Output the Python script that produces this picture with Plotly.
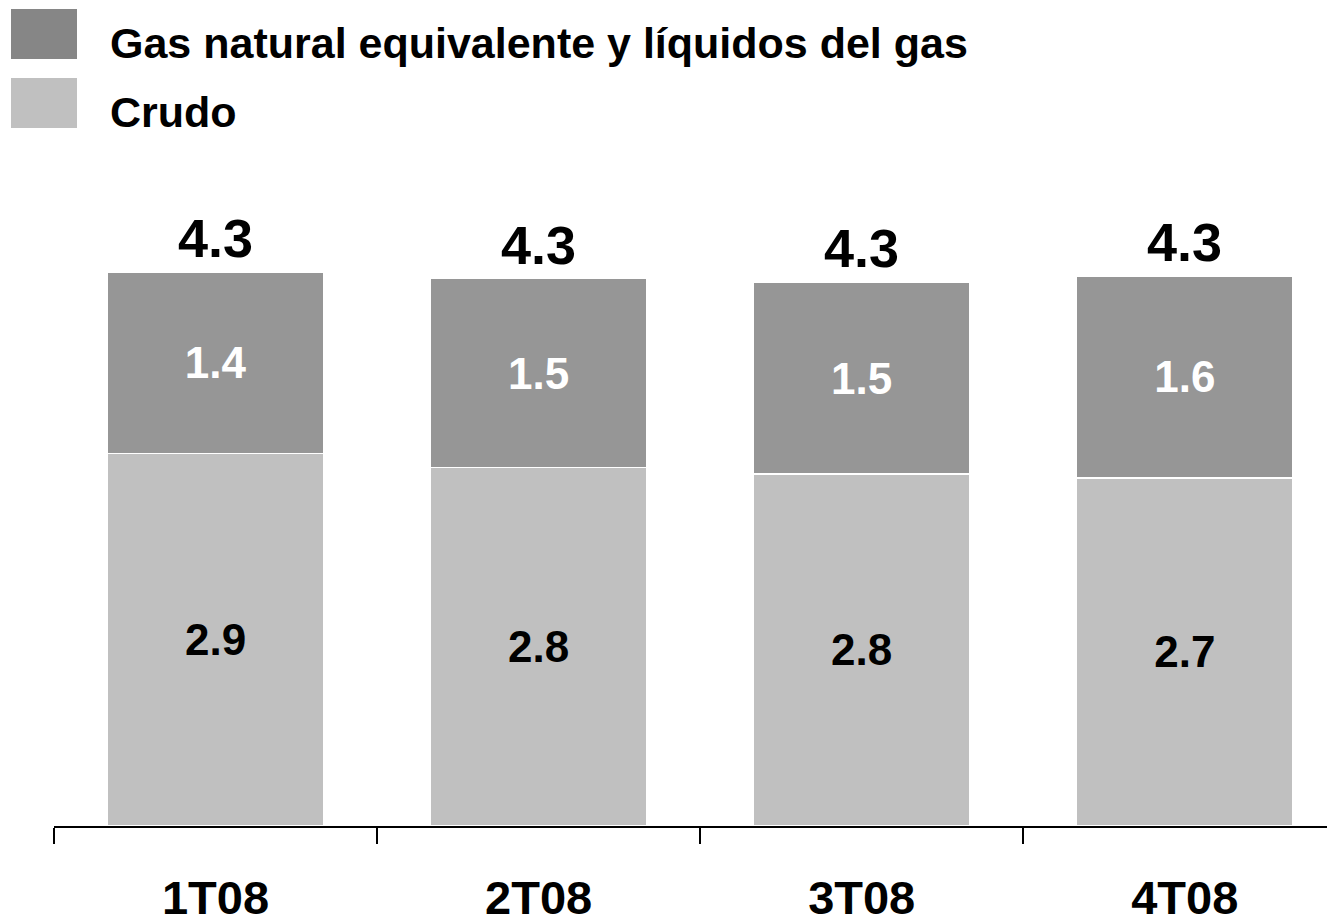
import plotly.graph_objects as go

# ------------------------------------------------------------------ #
#  DATA                                                                #
# ------------------------------------------------------------------ #
quarters = ["1T08", "2T08", "3T08", "4T08"]
crudo = [2.90, 2.79, 2.74, 2.71]
gas = [1.41, 1.47, 1.49, 1.57]
crudo_labels = ["2.9", "2.8", "2.8", "2.7"]
gas_labels = ["1.4", "1.5", "1.5", "1.6"]
total_labels = ["4.3", "4.3", "4.3", "4.3"]

legend_names = ["Gas natural equivalente y líquidos del gas", "Crudo"]

FONT = "Liberation Sans, Arial, sans-serif"
C_GAS = "#969696"
C_GAS_LEG = "#868686"
C_CRUDO = "#c0c0c0"

# the page puts the figure 8px in from the top-left corner
OFF = 8
W, H = 1335, 918
M_L, M_R, M_T, M_B = 46, 8, 172, 100
PLOT_W = W - M_L - M_R
PLOT_H = H - M_T - M_B


def px_x(px):
    return (px - OFF - M_L) / PLOT_W


def px_y(py):
    return (H - M_B - (py - OFF)) / PLOT_H


fig = go.Figure()

fig.add_trace(go.Bar(
    x=quarters, y=crudo, name=legend_names[1],
    marker=dict(color=C_CRUDO, line=dict(color="white", width=1.5)),
    text=crudo_labels, textposition="inside", insidetextanchor="middle",
    textangle=0, constraintext="none",
    textfont=dict(family=FONT, size=44, color="black", weight="bold"),
    hoverinfo="skip",
))
fig.add_trace(go.Bar(
    x=quarters, y=gas, name=legend_names[0],
    marker=dict(color=C_GAS, line=dict(color="white", width=1.5)),
    text=gas_labels, textposition="inside", insidetextanchor="middle",
    textangle=0, constraintext="none",
    textfont=dict(family=FONT, size=44, color="white", weight="bold"),
    hoverinfo="skip",
))

totals = [c + g for c, g in zip(crudo, gas)]
annotations = []
for q, t, lab in zip(quarters, totals, total_labels):
    annotations.append(dict(
        x=q, y=t, text=lab, showarrow=False, yanchor="bottom", yshift=2,
        font=dict(family=FONT, size=54, color="black", weight="bold"),
    ))

# legend drawn by hand: big square swatches + bold text
shapes = []
leg_rows = [(9, 59, C_GAS_LEG, legend_names[0], 58),
            (78, 128, C_CRUDO, legend_names[1], 127)]
for top, bottom, col, name, base in leg_rows:
    shapes.append(dict(type="rect", xref="paper", yref="paper",
                       x0=px_x(11), x1=px_x(77), y0=px_y(bottom), y1=px_y(top),
                       fillcolor=col, line=dict(width=0)))
    annotations.append(dict(
        xref="paper", yref="paper", x=px_x(108), y=px_y(base - 15),
        xanchor="left", yanchor="middle", text=name, showarrow=False,
        font=dict(family=FONT, size=43, color="black", weight="bold"),
    ))

fig.update_layout(
    width=W, height=H,
    margin=dict(l=M_L, r=M_R, t=M_T, b=M_B),
    barmode="stack", bargap=0.33,
    paper_bgcolor="white", plot_bgcolor="white",
    showlegend=False,
    shapes=shapes, annotations=annotations,
    xaxis=dict(
        range=[-0.5, 3.465], showgrid=False, zeroline=False, automargin=False,
        showline=True, linecolor="black", linewidth=2,
        ticks="outside", tickson="boundaries", ticklen=16,
        tickwidth=2, tickcolor="black", ticklabelstandoff=30,
        tickfont=dict(family=FONT, size=47, color="black", weight="bold"),
    ),
    yaxis=dict(range=[0, PLOT_H / 128.5], visible=False, automargin=False),
)

fig.write_html("out.html")
